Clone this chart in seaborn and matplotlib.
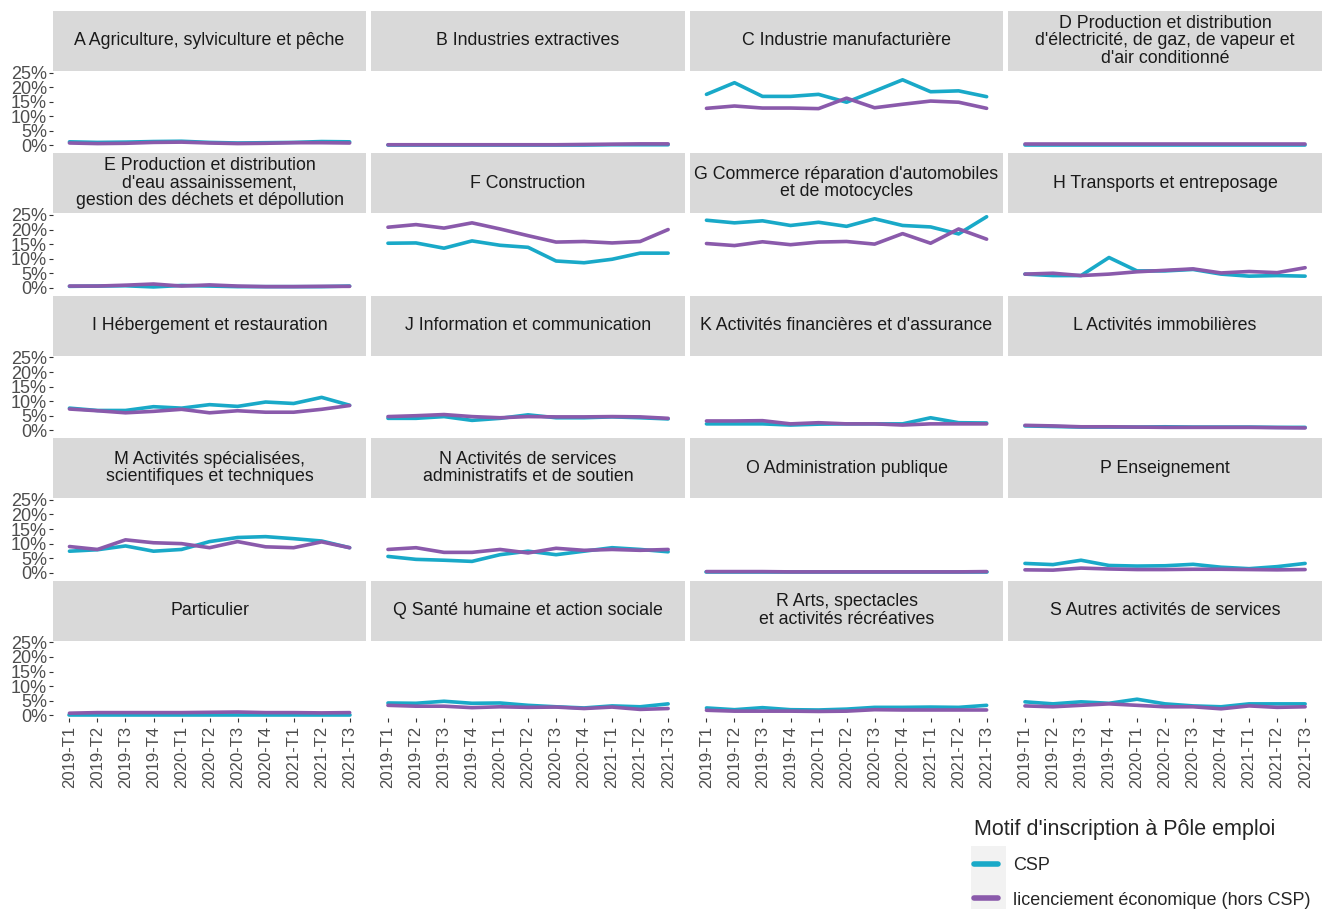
import pandas as pd
import matplotlib.pyplot as plt
import seaborn as sns
from matplotlib.patches import Rectangle
from matplotlib.ticker import FuncFormatter

trimestres = ["2019-T1", "2019-T2", "2019-T3", "2019-T4", "2020-T1", "2020-T2",
              "2020-T3", "2020-T4", "2021-T1", "2021-T2", "2021-T3"]

secteurs = [
    "A Agriculture, sylviculture et pêche",
    "B Industries extractives",
    "C Industrie manufacturière",
    "D Production et distribution\nd'électricité, de gaz, de vapeur et\nd'air conditionné",
    "E Production et distribution\nd'eau assainissement,\ngestion des déchets et dépollution",
    "F Construction",
    "G Commerce réparation d'automobiles\net de motocycles",
    "H Transports et entreposage",
    "I Hébergement et restauration",
    "J Information et communication",
    "K Activités financières et d'assurance",
    "L Activités immobilières",
    "M Activités spécialisées,\nscientifiques et techniques",
    "N Activités de services\nadministratifs et de soutien",
    "O Administration publique",
    "P Enseignement",
    "Particulier",
    "Q Santé humaine et action sociale",
    "R Arts, spectacles\net activités récréatives",
    "S Autres activités de services",
]

motifs = ["CSP", "licenciement économique (hors CSP)"]

# part des inscrits (%) par secteur, motif CSP
csp = [
    [1.2, 1.0, 1.1, 1.3, 1.4, 1.0, 0.8, 0.9, 1.0, 1.3, 1.2],
    [0.1, 0.1, 0.1, 0.1, 0.1, 0.1, 0.1, 0.1, 0.2, 0.2, 0.2],
    [17.5, 21.5, 16.8, 16.8, 17.5, 14.8, 18.6, 22.5, 18.4, 18.7, 16.7],
    [0.1, 0.1, 0.1, 0.1, 0.1, 0.1, 0.1, 0.1, 0.1, 0.1, 0.1],
    [0.5, 0.6, 0.7, 0.3, 0.8, 0.6, 0.4, 0.4, 0.4, 0.4, 0.6],
    [15.3, 15.4, 13.6, 16.1, 14.6, 13.9, 9.2, 8.6, 9.8, 11.9, 11.9],
    [23.2, 22.3, 23.0, 21.4, 22.5, 21.1, 23.7, 21.4, 20.9, 18.5, 24.4],
    [4.7, 4.2, 4.2, 10.4, 5.8, 5.8, 6.3, 4.7, 4.0, 4.2, 4.0],
    [7.6, 6.8, 6.8, 8.1, 7.6, 8.8, 8.2, 9.7, 9.2, 11.3, 8.6],
    [4.1, 4.1, 4.7, 3.4, 4.1, 5.3, 4.3, 4.3, 4.6, 4.3, 3.9],
    [2.2, 2.2, 2.2, 1.8, 2.1, 2.2, 2.2, 2.2, 4.3, 2.6, 2.5],
    [1.5, 1.3, 1.1, 1.1, 1.1, 1.2, 1.1, 1.1, 1.1, 1.0, 1.0],
    [7.4, 7.9, 9.2, 7.4, 8.0, 10.7, 12.1, 12.4, 11.7, 10.9, 8.6],
    [5.6, 4.6, 4.3, 3.9, 6.2, 7.4, 6.2, 7.4, 8.6, 8.0, 7.2],
    [0.2, 0.2, 0.2, 0.2, 0.2, 0.2, 0.2, 0.2, 0.2, 0.2, 0.2],
    [3.2, 2.8, 4.3, 2.5, 2.3, 2.4, 2.9, 1.9, 1.4, 2.1, 3.2],
    [0.1, 0.1, 0.1, 0.1, 0.1, 0.1, 0.1, 0.1, 0.1, 0.1, 0.1],
    [4.2, 4.1, 4.8, 4.1, 4.2, 3.4, 2.9, 2.5, 3.2, 2.9, 3.9],
    [2.5, 1.9, 2.6, 1.9, 1.8, 2.1, 2.7, 2.7, 2.8, 2.7, 3.4],
    [4.6, 3.9, 4.6, 4.1, 5.5, 3.9, 3.2, 2.9, 3.9, 3.9, 3.9],
]

# part des inscrits (%) par secteur, motif licenciement économique
licenciement = [
    [0.8, 0.6, 0.7, 1.0, 1.1, 0.8, 0.6, 0.7, 0.9, 0.9, 0.8],
    [0.2, 0.2, 0.2, 0.2, 0.2, 0.2, 0.2, 0.3, 0.4, 0.5, 0.5],
    [12.7, 13.5, 12.8, 12.8, 12.6, 16.2, 12.9, 14.1, 15.2, 14.8, 12.7],
    [0.3, 0.3, 0.3, 0.3, 0.3, 0.3, 0.3, 0.3, 0.3, 0.3, 0.3],
    [0.6, 0.6, 0.9, 1.3, 0.6, 1.0, 0.6, 0.4, 0.4, 0.5, 0.5],
    [20.8, 21.7, 20.5, 22.3, 20.2, 17.9, 15.7, 15.9, 15.4, 15.9, 20.0],
    [15.2, 14.5, 15.8, 14.8, 15.7, 15.9, 15.0, 18.6, 15.3, 20.2, 16.7],
    [4.7, 5.0, 4.2, 4.7, 5.5, 6.0, 6.5, 5.1, 5.6, 5.2, 6.9],
    [7.3, 6.7, 6.0, 6.5, 7.2, 6.0, 6.7, 6.2, 6.2, 7.2, 8.5],
    [4.7, 5.0, 5.4, 4.7, 4.3, 4.7, 4.6, 4.6, 4.7, 4.6, 4.1],
    [3.2, 3.2, 3.3, 2.2, 2.6, 2.2, 2.2, 1.8, 2.2, 2.2, 2.2],
    [1.7, 1.5, 1.2, 1.2, 1.1, 1.0, 1.0, 1.0, 1.0, 0.9, 0.8],
    [9.0, 8.0, 11.3, 10.3, 10.0, 8.6, 10.7, 8.9, 8.6, 10.6, 8.6],
    [8.0, 8.6, 7.0, 7.0, 8.0, 6.8, 8.4, 7.7, 8.0, 7.7, 8.0],
    [0.4, 0.4, 0.4, 0.3, 0.3, 0.3, 0.3, 0.3, 0.3, 0.3, 0.4],
    [1.0, 0.9, 1.6, 1.3, 1.1, 1.1, 1.2, 1.2, 1.1, 1.0, 1.1],
    [0.7, 0.9, 0.9, 0.9, 0.9, 1.0, 1.1, 0.9, 0.9, 0.8, 0.9],
    [3.4, 3.1, 3.1, 2.6, 2.9, 2.7, 2.8, 2.3, 2.8, 2.0, 2.3],
    [1.7, 1.4, 1.4, 1.4, 1.3, 1.4, 1.9, 1.8, 1.8, 1.8, 1.8],
    [3.2, 2.9, 3.4, 3.9, 3.4, 2.9, 2.9, 2.2, 3.2, 2.7, 2.9],
]

rows = []
for s, sect in enumerate(secteurs):
    for motif, serie in zip(motifs, [csp, licenciement]):
        for t, trim in enumerate(trimestres):
            rows.append({"secteur": sect, "trimestre": trim, "motif": motif, "part": serie[s][t]})
df = pd.DataFrame(rows)

sns.set_style("white")
plt.rcParams["font.family"] = ["Liberation Sans", "DejaVu Sans"]

palette = {"CSP": "#19A9C8", "licenciement économique (hors CSP)": "#8A5AAB"}

g = sns.relplot(data=df, x="trimestre", y="part", hue="motif", col="secteur", col_wrap=4,
                kind="line", palette=palette, linewidth=2.6, height=2, aspect=2,
                col_order=secteurs, hue_order=motifs, facet_kws={"sharex": True, "sharey": True})

fig = g.figure
fig.set_size_inches(13.23, 9.09)
fig.subplots_adjust(left=0.0398, right=0.9992, top=0.9222, bottom=0.2096, wspace=0.015, hspace=0.83)

lo, hi = df["part"].min(), df["part"].max()
pad = (hi - lo) * 0.05
g.set(xlim=(-0.6, 10.6), ylim=(lo - pad, hi + pad), yticks=[0, 5, 10, 15, 20, 25])
g.set_axis_labels("", "")
g.set_titles("")
g.despine(left=True, bottom=True)

strip_h = 60 / 78
for i, ax in enumerate(g.axes.flat):
    ax.yaxis.set_major_formatter(FuncFormatter(lambda v, p: f"{v:.0f}%"))
    first_col = i % 4 == 0
    bottom_row = i >= 16
    ax.tick_params(axis="y", left=first_col, labelleft=first_col, length=3, width=0.8,
                   color="#333333", labelcolor="#4D4D4D", labelsize=13, pad=1)
    ax.tick_params(axis="x", bottom=bottom_row, labelbottom=bottom_row, length=3, width=0.8,
                   color="#333333", labelcolor="#4D4D4D", labelsize=12, labelrotation=90, pad=2)
    ax.add_patch(Rectangle((0, 1), 1, strip_h, transform=ax.transAxes, facecolor="#D9D9D9",
                           edgecolor="none", clip_on=False))
    ax.text(0.5, 1 + strip_h / 2, secteurs[i], transform=ax.transAxes, ha="center", va="center",
            fontsize=12.8, color="#1A1A1A", linespacing=1.03)

# fond gris clair des clés de légende
fig.patches.append(Rectangle((971 / 1323, 1 - 916 / 909), 35 / 1323, 70 / 909,
                             transform=fig.transFigure, facecolor="#F2F2F2", edgecolor="none",
                             zorder=0))

sns.move_legend(g, "upper left", bbox_to_anchor=(958 / 1323, 1 - 803 / 909),
                title="Motif d'inscription à Pôle emploi", frameon=False, fontsize=13,
                title_fontsize=15.5, handlelength=1.3, handletextpad=0.85, labelspacing=0.95,
                alignment="left")
for line in g.legend.get_lines():
    line.set_linewidth(4)

fig.savefig("out.png", dpi=100)
